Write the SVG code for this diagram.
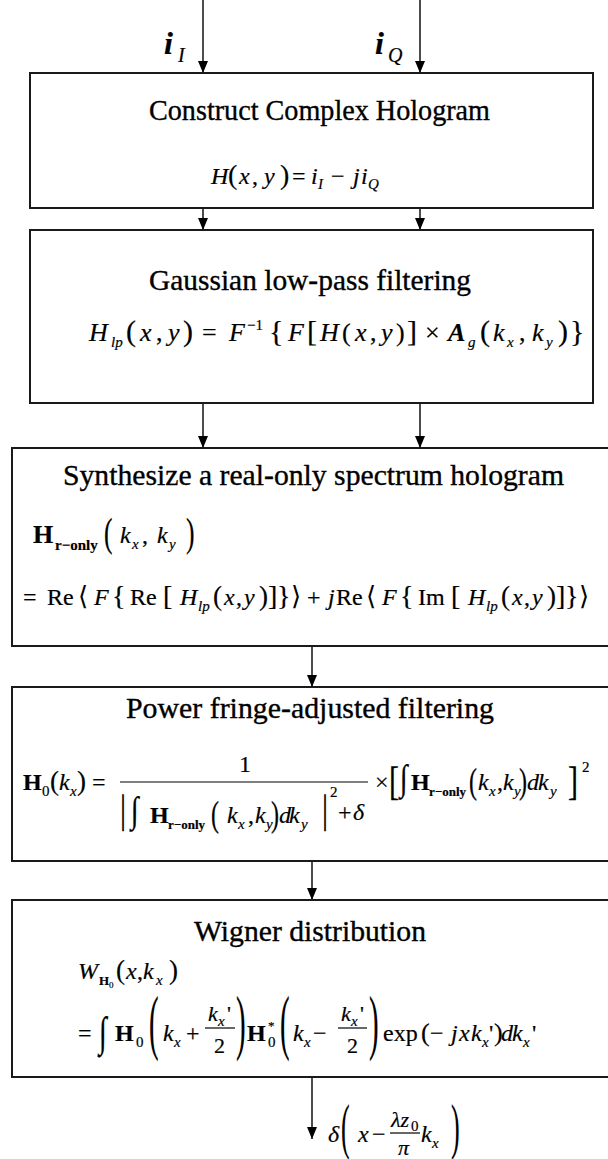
<svg xmlns="http://www.w3.org/2000/svg" width="608" height="1159" viewBox="0 0 608 1159">
<defs>
<style>
.box{fill:#fff;stroke:#1a1a1a;stroke-width:2}
.e{stroke:#000;stroke-width:1.4;fill:none}
.T{font-family:"Liberation Serif",serif;font-size:29px;fill:#000;stroke:#000;stroke-width:0.35}
.M{font-family:"Liberation Serif",serif;font-size:24px;font-style:italic;fill:#000;stroke:#000;stroke-width:0.2}
.U{font-style:normal}
.B{font-weight:bold;font-style:normal}
.S{font-size:15px}
.X{font-size:13px}
.P{font-family:"Liberation Serif",serif;font-size:30px;fill:#000;stroke:#000;stroke-width:0.2}
.Q{font-family:"DejaVu Serif","Liberation Serif",serif;font-size:24px;fill:#000}
.fl{stroke:#000;stroke-width:1.2}
</style>
<marker id="ah" markerUnits="userSpaceOnUse" markerWidth="12" markerHeight="10" refX="12" refY="5" orient="auto" viewBox="0 0 12 10">
<path d="M0,0 L12,5 L0,10 z" fill="#000"/>
</marker>
</defs>
<rect width="608" height="1159" fill="#fff"/>

<g id="edges">
<line class="e" x1="203" y1="0" x2="203" y2="73" marker-end="url(#ah)"/>
<line class="e" x1="420" y1="0" x2="420" y2="73" marker-end="url(#ah)"/>
<line class="e" x1="203" y1="208" x2="203" y2="230" marker-end="url(#ah)"/>
<line class="e" x1="420" y1="208" x2="420" y2="230" marker-end="url(#ah)"/>
<line class="e" x1="203" y1="403" x2="203" y2="448" marker-end="url(#ah)"/>
<line class="e" x1="420" y1="403" x2="420" y2="448" marker-end="url(#ah)"/>
<line class="e" x1="312" y1="646" x2="312" y2="687" marker-end="url(#ah)"/>
<line class="e" x1="312" y1="861" x2="312" y2="900" marker-end="url(#ah)"/>
<line class="e" x1="312" y1="1077" x2="312" y2="1139" marker-end="url(#ah)"/>
</g>

<g id="inputs">
<text class="M" y="54"><tspan x="164" font-weight="bold" font-size="32">i</tspan><tspan x="178" y="62" font-size="20">I</tspan></text>
<text class="M" y="54"><tspan x="375" font-weight="bold" font-size="32">i</tspan><tspan x="388" y="62" font-size="20">Q</tspan></text>
</g>

<g id="n1">
<rect class="box" x="30" y="73" width="563" height="135"/>
<text class="T" x="149" y="120" textLength="341" lengthAdjust="spacingAndGlyphs">Construct Complex Hologram</text>
<text class="M" y="184"><tspan x="211">H</tspan><tspan class="U" x="228" font-size="28">(</tspan><tspan x="239">x</tspan><tspan class="U" x="252">,</tspan><tspan x="264">y</tspan><tspan class="U" x="280" font-size="28">)</tspan><tspan class="U" x="292">=</tspan><tspan x="311">i</tspan><tspan class="S" x="318" y="189">I</tspan><tspan class="U" x="331" y="184">−</tspan><tspan x="353">j</tspan><tspan x="361">i</tspan><tspan class="S" x="368" y="189">Q</tspan></text>
</g>

<g id="n2">
<rect class="box" x="30" y="230" width="563" height="173"/>
<text class="T" x="149" y="290" textLength="322" lengthAdjust="spacingAndGlyphs">Gaussian low-pass filtering</text>
<text class="M" y="341" style="font-size:26px"><tspan x="89">H</tspan><tspan class="S" x="111" y="347">lp</tspan><tspan class="U" x="126" y="341" font-size="30">(</tspan><tspan x="140">x</tspan><tspan class="U" x="156">,</tspan><tspan x="168">y</tspan><tspan class="U" x="183" font-size="30">)</tspan><tspan class="U" x="202">=</tspan><tspan x="229">F</tspan><tspan class="U S" x="247" y="330">−1</tspan><tspan class="U" x="269" y="341" font-size="30">{</tspan><tspan x="288">F</tspan><tspan class="U" x="307" font-size="30">[</tspan><tspan x="320">H</tspan><tspan class="U" x="342">(</tspan><tspan x="355">x</tspan><tspan class="U" x="370">,</tspan><tspan x="381">y</tspan><tspan class="U" x="396">)</tspan><tspan class="U" x="407" font-size="30">]</tspan><tspan class="U" x="425">×</tspan><tspan font-weight="bold" x="448">A</tspan><tspan class="S" x="468" y="347">g</tspan><tspan class="U" x="480" y="341" font-size="30">(</tspan><tspan x="493">k</tspan><tspan class="S" x="507" y="347">x</tspan><tspan class="U" x="519" y="341">,</tspan><tspan x="532">k</tspan><tspan class="S" x="546" y="347">y</tspan><tspan class="U" x="558" y="341" font-size="30">)</tspan><tspan class="U" x="570" font-size="30">}</tspan></text>
</g>

<g id="n3">
<rect class="box" x="12" y="448" width="600" height="198"/>
<text class="T" x="63" y="485" textLength="501" lengthAdjust="spacingAndGlyphs">Synthesize a real-only spectrum hologram</text>
<text class="M" y="543"><tspan class="B" x="33" font-size="26">H</tspan><tspan class="B" x="55" y="550" font-size="15">r−only</tspan><tspan x="120" y="543">k</tspan><tspan class="S" x="132" y="549">x</tspan><tspan class="U" x="142" y="543">,</tspan><tspan x="157">k</tspan><tspan class="S" x="169" y="549">y</tspan></text>
<text class="P" transform="translate(104,546) scale(0.85,1.3)">(</text>
<text class="P" transform="translate(186,546) scale(0.85,1.3)">)</text>
<text class="M" y="605"><tspan class="U" x="23">=</tspan><tspan class="U" x="47">Re</tspan><tspan x="94">F</tspan><tspan class="U" x="130">Re</tspan><tspan x="180">H</tspan><tspan class="S" x="198" y="611">lp</tspan><tspan class="U" x="213" y="605" font-size="27">(</tspan><tspan x="224">x</tspan><tspan class="U" x="236">,</tspan><tspan x="244">y</tspan><tspan class="U" x="259" font-size="27">)</tspan><tspan class="U" x="307">+</tspan><tspan x="328">j</tspan><tspan class="U" x="336">Re</tspan><tspan x="382">F</tspan><tspan class="U" x="418">Im</tspan><tspan x="468">H</tspan><tspan class="S" x="486" y="611">lp</tspan><tspan class="U" x="501" y="605" font-size="27">(</tspan><tspan x="512">x</tspan><tspan class="U" x="524">,</tspan><tspan x="532">y</tspan><tspan class="U" x="547" font-size="27">)</tspan></text>
<text class="P" y="605" style="font-size:28px"><tspan x="163">[</tspan><tspan x="268">]</tspan><tspan x="451">[</tspan><tspan x="556">]</tspan><tspan x="112">{</tspan><tspan x="277">}</tspan><tspan x="400">{</tspan><tspan x="565">}</tspan></text>
<text class="Q" y="605" style="font-size:26px"><tspan x="78">⟨</tspan><tspan x="291">⟩</tspan><tspan x="366">⟨</tspan><tspan x="579">⟩</tspan></text>
</g>

<g id="n4">
<rect class="box" x="12" y="687" width="600" height="174"/>
<text class="T" x="126" y="718" textLength="368" lengthAdjust="spacingAndGlyphs">Power fringe-adjusted filtering</text>
<text class="M" y="790"><tspan class="B" x="23">H</tspan><tspan class="U S" x="42" y="796">0</tspan><tspan class="U" x="50" y="790" font-size="27">(</tspan><tspan x="59">k</tspan><tspan class="S" x="70" y="796">x</tspan><tspan class="U" x="77" y="790" font-size="27">)</tspan><tspan class="U" x="92">=</tspan><tspan class="U" x="375">×</tspan></text>
<line class="fl" x1="120" y1="782" x2="368" y2="782"/>
<text class="M" x="239" y="772"><tspan class="U">1</tspan></text>
<text class="M" y="823"><tspan class="B" x="150">H</tspan><tspan class="B X" x="168" y="829">r−only</tspan><tspan x="227" y="823">k</tspan><tspan class="S" x="238" y="829">x</tspan><tspan class="U" x="248" y="823">,</tspan><tspan x="255">k</tspan><tspan class="S" x="266" y="829">y</tspan><tspan x="279" y="823">d</tspan><tspan x="289">k</tspan><tspan class="S" x="301" y="829">y</tspan><tspan class="U S" x="330" y="797">2</tspan><tspan class="U" x="338" y="820">+</tspan><tspan x="353">δ</tspan></text>
<text class="P" transform="translate(211,826) scale(0.8,1.2)">(</text>
<text class="P" transform="translate(271,826) scale(0.8,1.2)">)</text>
<text class="P" transform="translate(120,822) scale(1,1.35)">|</text>
<text class="P" transform="translate(322,822) scale(1,1.35)">|</text>
<text class="P" transform="translate(131,822) scale(1,1.3)" style="font-size:28px">∫</text>
<text class="M" y="790"><tspan class="B" x="411">H</tspan><tspan class="B X" x="429" y="796">r−only</tspan><tspan x="478" y="790">k</tspan><tspan class="S" x="489" y="796">x</tspan><tspan class="U" x="497" y="790">,</tspan><tspan x="503">k</tspan><tspan class="S" x="514" y="796">y</tspan><tspan x="527" y="790">d</tspan><tspan x="538">k</tspan><tspan class="S" x="550" y="796">y</tspan><tspan class="U S" x="582" y="772">2</tspan></text>
<text class="P" transform="translate(469,793) scale(0.8,1.2)">(</text>
<text class="P" transform="translate(519,793) scale(0.8,1.2)">)</text>
<text class="P" transform="translate(389,795) scale(1,1.3)">[</text>
<text class="P" transform="translate(568,795) scale(1,1.3)">]</text>
<text class="P" transform="translate(400,790) scale(1,1.3)" style="font-size:28px">∫</text>
</g>

<g id="n5">
<rect class="box" x="12" y="900" width="600" height="177"/>
<text class="T" x="194" y="941" textLength="232" lengthAdjust="spacingAndGlyphs">Wigner distribution</text>
<text class="M" y="979"><tspan x="78">W</tspan><tspan class="B X" x="99" y="985">H</tspan><tspan class="U" x="109" y="988" font-size="9">0</tspan><tspan class="U" x="116" y="979" font-size="27">(</tspan><tspan x="126">x</tspan><tspan class="U" x="137">,</tspan><tspan x="143">k</tspan><tspan class="S" x="156" y="985">x</tspan><tspan class="U" x="169" y="979" font-size="27">)</tspan></text>
<text class="M" y="1041"><tspan class="U" x="78">=</tspan><tspan class="B" x="115">H</tspan><tspan class="U S" x="136" y="1047">0</tspan><tspan x="163" y="1041">k</tspan><tspan class="S" x="174" y="1047">x</tspan><tspan class="U" x="186" y="1041">+</tspan><tspan class="B" x="247">H</tspan><tspan class="U X" x="268" y="1030">*</tspan><tspan class="U S" x="268" y="1047">0</tspan><tspan x="293" y="1041">k</tspan><tspan class="S" x="304" y="1047">x</tspan><tspan class="U" x="313" y="1041">−</tspan><tspan class="U" x="383">exp</tspan><tspan class="U" x="430">−</tspan><tspan x="451">j</tspan><tspan x="459">x</tspan><tspan x="471">k</tspan><tspan class="S" x="482" y="1047">x</tspan><tspan class="U" x="489" y="1041">'</tspan><tspan x="501">d</tspan><tspan x="512">k</tspan><tspan class="S" x="523" y="1047">x</tspan><tspan class="U" x="532" y="1041">'</tspan></text>
<text class="P" y="1041" style="font-size:26px"><tspan x="421">(</tspan><tspan x="494">)</tspan></text>
<text class="P" transform="translate(99,1046) scale(1,1.5)" style="font-size:28px">∫</text>
<text class="P" transform="translate(149,1046) scale(0.4,1)" style="font-size:72px">(</text>
<text class="P" transform="translate(236,1046) scale(0.4,1)" style="font-size:72px">)</text>
<text class="P" transform="translate(280,1046) scale(0.4,1)" style="font-size:72px">(</text>
<text class="P" transform="translate(369,1046) scale(0.4,1)" style="font-size:72px">)</text>
<line class="fl" x1="205" y1="1028" x2="235" y2="1028"/>
<line class="fl" x1="338" y1="1028" x2="367" y2="1028"/>
<text class="M" y="1021" style="font-size:22px"><tspan x="208">k</tspan><tspan class="S" x="218" y="1026">x</tspan><tspan class="U" x="227" y="1021">'</tspan><tspan x="341">k</tspan><tspan class="S" x="351" y="1026">x</tspan><tspan class="U" x="360" y="1021">'</tspan></text>
<text class="M" y="1053" style="font-size:22px"><tspan class="U" x="214">2</tspan><tspan class="U" x="347">2</tspan></text>
</g>

<g id="out">
<text class="M" y="1142"><tspan x="328">δ</tspan><tspan x="358">x</tspan><tspan class="U" x="372">−</tspan><tspan x="421">k</tspan><tspan class="S" x="432" y="1148">x</tspan></text>
<text class="P" transform="translate(341,1147) scale(0.42,1)" style="font-size:62px">(</text>
<text class="P" transform="translate(451,1147) scale(0.42,1)" style="font-size:62px">)</text>
<line class="fl" x1="390" y1="1133" x2="420" y2="1133"/>
<text class="M" y="1127" style="font-size:22px"><tspan x="391">λz</tspan><tspan class="U S" x="411" y="1131">0</tspan></text>
<text class="M" x="398" y="1155" style="font-size:22px">π</text>
</g>
</svg>
